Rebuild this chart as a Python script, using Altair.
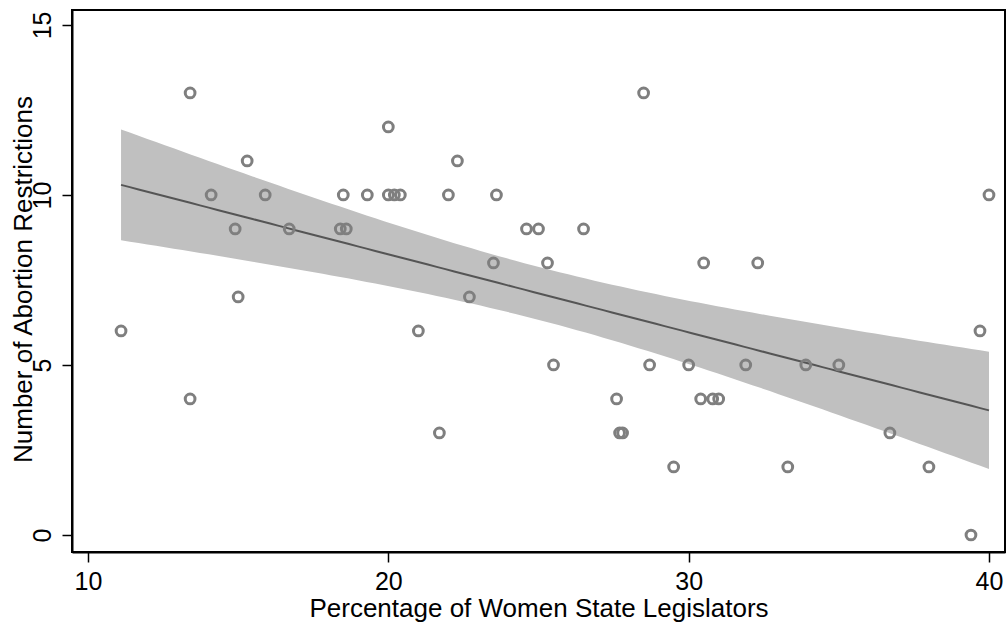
import altair as alt
import numpy as np
import pandas as pd

# Percentage of women state legislators (x) and number of abortion restrictions (y)
pct_women = [11.1, 13.4, 13.4, 14.1, 14.9, 15.0, 15.3, 15.9, 16.7, 18.4,
             18.6, 18.5, 19.3, 20.0, 20.0, 20.2, 20.4, 21.0, 21.7, 22.0,
             22.3, 22.7, 23.5, 23.6, 24.6, 25.0, 25.3, 25.5, 26.5, 27.6,
             27.7, 27.8, 28.5, 28.7, 29.5, 30.0, 30.4, 30.5, 30.8, 31.0,
             31.9, 32.3, 33.3, 33.9, 35.0, 36.7, 38.0, 39.4, 39.7, 40.0]
restrictions = [6, 13, 4, 10, 9, 7, 11, 10, 9, 9,
                9, 10, 10, 12, 10, 10, 10, 6, 3, 10,
                11, 7, 8, 10, 9, 9, 8, 5, 9, 4,
                3, 3, 13, 5, 2, 5, 4, 8, 4, 4,
                5, 8, 2, 5, 5, 3, 2, 0, 6, 10]

x_ticks = [10, 20, 30, 40]
y_ticks = [0, 5, 10, 15]

pts = pd.DataFrame({"x": pct_women, "y": restrictions})

# OLS fit with 95% CI of the mean prediction (as in Stata's lfitci)
xa = np.array(pct_women, dtype=float)
ya = np.array(restrictions, dtype=float)
n = len(xa)
xbar = xa.mean()
sxx = ((xa - xbar) ** 2).sum()
b1 = ((xa - xbar) * (ya - ya.mean())).sum() / sxx
b0 = ya.mean() - b1 * xbar
resid = ya - (b0 + b1 * xa)
s = np.sqrt((resid ** 2).sum() / (n - 2))
t_crit = 2.0106  # t(0.975, 48)
grid = np.linspace(xa.min(), xa.max(), 100)
fit = b0 + b1 * grid
se = s * np.sqrt(1.0 / n + (grid - xbar) ** 2 / sxx)
fitdf = pd.DataFrame({"x": grid, "fit": fit, "lo": fit - t_crit * se, "hi": fit + t_crit * se})

FONT = "Liberation Sans"

xscale = alt.Scale(domain=[9.467, 40.533], nice=False, zero=False)
yscale = alt.Scale(domain=[-0.5, 15.44], nice=False, zero=False)

xaxis = alt.Axis(values=x_ticks, title="Percentage of Women State Legislators",
                 grid=False, tickSize=10, tickColor="black", tickWidth=1.5,
                 domainColor="black", domainWidth=2,
                 labelFont=FONT, labelFontSize=25, labelColor="black",
                 labelPadding=7, labelBaseline="top", labelFlush=False,
                 titleFont=FONT, titleFontSize=26, titleFontWeight="normal",
                 titleColor="black", titleY=64, titleBaseline="alphabetic")
yaxis = alt.Axis(values=y_ticks, title="Number of Abortion Restrictions",
                 grid=False, tickSize=10, tickColor="black", tickWidth=1.5,
                 domainColor="black", domainWidth=2,
                 labelFont=FONT, labelFontSize=25, labelColor="black",
                 labelAngle=-90, labelAlign="center", labelBaseline="alphabetic",
                 labelPadding=12, labelFlush=False,
                 titleFont=FONT, titleFontSize=26, titleFontWeight="normal",
                 titleColor="black", titleAngle=-90, titleX=-41, titleY=269,
                 titleAlign="center", titleBaseline="alphabetic")

band = alt.Chart(fitdf).mark_area(color="#c0c0c0", opacity=1).encode(
    x=alt.X("x:Q", scale=xscale, axis=xaxis),
    y=alt.Y("lo:Q", scale=yscale, axis=yaxis),
    y2="hi:Q",
)
line = alt.Chart(fitdf).mark_line(color="#555555", strokeWidth=2).encode(
    x=alt.X("x:Q", scale=xscale),
    y=alt.Y("fit:Q", scale=yscale),
)
points = alt.Chart(pts).mark_point(shape="circle", filled=False, color="#7f7f7f",
                                    size=95, strokeWidth=3, opacity=1).encode(
    x=alt.X("x:Q", scale=xscale),
    y=alt.Y("y:Q", scale=yscale),
)

chart = alt.layer(band, line, points).properties(
    width=933, height=542,
    autosize=alt.AutoSizeParams(type="none"),
    padding={"left": 72, "top": 10, "right": 1, "bottom": 74},
    background="white",
).configure_view(stroke="black", strokeWidth=2)

chart.save("out.html", embed_options={"renderer": "svg", "actions": False})
